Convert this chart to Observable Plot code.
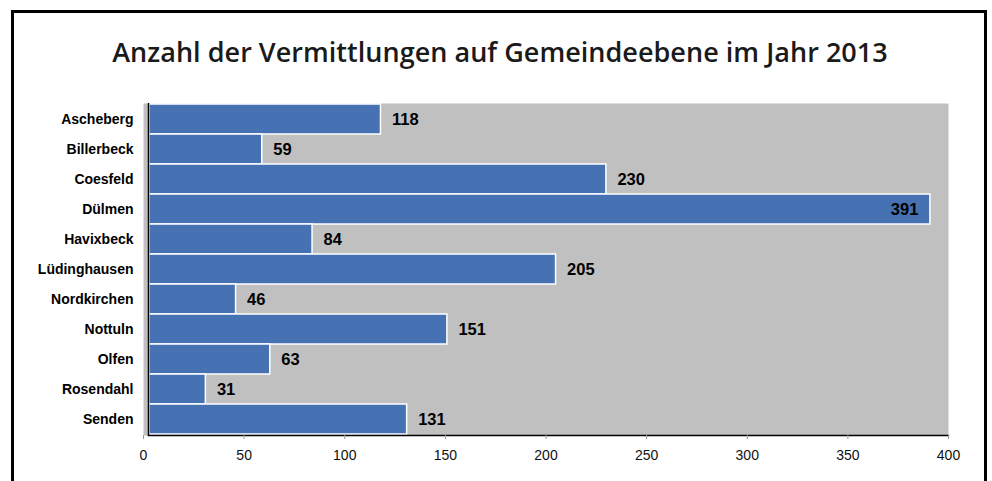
<!DOCTYPE html>
<html>
<head>
<meta charset="utf-8">
<script src="https://cdn.jsdelivr.net/npm/d3@7"></script>
<script src="https://cdn.jsdelivr.net/npm/@observablehq/plot@0.6"></script>
<style>
  html, body { margin: 0; padding: 0; background: #fff; overflow: hidden; }
  #wrap { position: relative; width: 992px; height: 481px; }
  #border { position: absolute; left: 11px; top: 10px; width: 976px; height: 520px; box-sizing: border-box; border: 3px solid #000; }
  #title { position: absolute; left: 0; top: 33px; width: 1000px; text-align: center; font-family: "Open Sans", sans-serif; font-weight: 600; font-size: 27px; color: #1a1a1a; line-height: 38px; letter-spacing: 0.03px; }
  #chart { position: absolute; left: 0; top: 0; }
</style>
</head>
<body>
<div id="wrap">
  <div id="border"></div>
  <div id="title">Anzahl der Vermittlungen auf Gemeindeebene im Jahr 2013</div>
  <div id="chart"></div>
</div>
<script>
const gemeinden = ["Ascheberg", "Billerbeck", "Coesfeld", "Dülmen", "Havixbeck", "Lüdinghausen", "Nordkirchen", "Nottuln", "Olfen", "Rosendahl", "Senden"];
const vermittlungen = [118, 59, 230, 391, 84, 205, 46, 151, 63, 31, 131];
const xTicks = [0, 50, 100, 150, 200, 250, 300, 350, 400];

const data = gemeinden.map((name, i) => ({ name, value: vermittlungen[i] }));
const maxVal = d3.max(vermittlungen);

const chart = Plot.plot({
  width: 992,
  height: 481,
  marginLeft: 143,
  marginRight: 44,
  marginTop: 103,
  marginBottom: 46,
  style: { background: "transparent", fontFamily: "'Liberation Sans', Arial, sans-serif" },
  x: { domain: [0, 400], ticks: xTicks, label: null, tickSize: 4, tickPadding: 11 },
  y: { domain: gemeinden, padding: 0, label: null },
  marks: [
    Plot.frame({ fill: "#c0c0c0", stroke: null }),
    Plot.barX(data, { x: "value", y: "name", fill: "#4672b4", stroke: "#ffffff", strokeWidth: 1.5, insetLeft: 6 }),
    Plot.ruleX([0], { dx: 5, stroke: "#000", strokeWidth: 1.5 }),
    Plot.frame({ anchor: "bottom", stroke: "#000", strokeWidth: 1.5, insetLeft: 5 }),
    Plot.axisX({ ticks: xTicks, tickSize: 4, tickPadding: 11, stroke: "#999", fontSize: 14, fill: "#111", label: null }),
    Plot.axisY({ tickSize: 0, tickPadding: 10, fontSize: 14, fontWeight: "bold", fill: "#000", label: null }),
    Plot.text(data.filter(d => d.value < maxVal), { x: "value", y: "name", text: d => String(d.value), dx: 11, textAnchor: "start", fontSize: 16.5, fontWeight: "bold", fill: "#000" }),
    Plot.text(data.filter(d => d.value === maxVal), { x: "value", y: "name", text: d => String(d.value), dx: -12, textAnchor: "end", fontSize: 16.5, fontWeight: "bold", fill: "#000" })
  ]
});
document.getElementById("chart").appendChild(chart);
</script>
</body>
</html>
